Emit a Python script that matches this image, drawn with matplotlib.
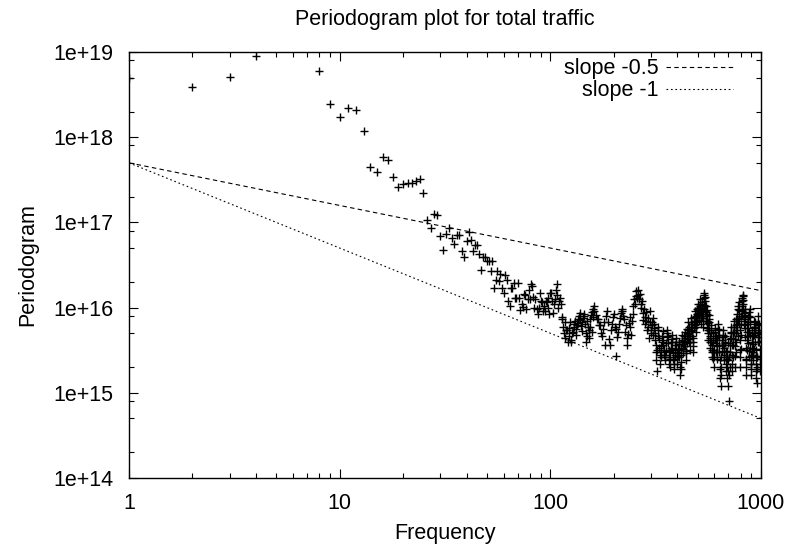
import numpy as np
import matplotlib
matplotlib.use("Agg")
import matplotlib.pyplot as plt
from matplotlib.ticker import FixedLocator, FixedFormatter, NullFormatter

plt.rcParams['font.family'] = ['Liberation Sans', 'DejaVu Sans']

UNIT = 1e15  # values below are in units of 1e15

# low frequencies (5, 6, 7 lie above the plotted range)
freq_low = [1, 2, 3, 4] + list(range(8, 101))
power_low = [5000, 3900, 5060, 9050,
             6000, 2470, 1720, 2200, 2080, 1180, 450, 390, 590, 540, 340, 260, 284, 290, 290, 310, 320, 220, 106, 87, 127, 123, 70,
             47, 74, 87, 66, 56, 71, 72, 46, 39, 60,
             78, 62, 46, 54, 54, 43, 28, 39, 39, 35,
             35, 27, 35, 17, 21, 27, 20.5, 25, 17, 14.7,
             24, 21, 12, 10.5, 17, 17.2, 19.7, 13, 13, 19.7,
             13, 9.4, 11, 10.2, 14.4, 14, 9.6, 12.6, 16, 12.6,
             19, 18, 13.2, 10, 12.6, 9.6, 8.4, 10, 15, 12,
             11.5, 9, 10.5, 9.1, 12, 11.7, 13, 10, 8.5, 15]

freq_b = list(range(101, 162))
power_b = [15, 12, 8.7, 11, 12.5, 16, 19, 14, 10, 12,
           13, 11, 7.3, 7.7, 6.0, 5.0, 6.8, 4.4, 5.5, 5.4,
           3.9, 4.6, 5.8, 6.7, 4.2, 3.9, 5.0, 5.2, 6.0, 6.5,
           7.0, 5.6, 4.8, 6.2, 7.4, 6.6, 8.0, 8.7, 7.2, 6.1,
           5.3, 6.8, 7.6, 8.3, 8.0, 6.4, 5.0, 3.9, 4.6, 7.0,
           6.0, 5.4, 4.4, 5.9, 7.3, 8.1, 8.8, 5.2, 7.8, 9.5,
           10.5]

freq_c = list(range(162, 302, 2))
power_c = [9.0, 8.2, 7.3, 7.3, 6.2, 6.2, 5.0, 4.7, 5.6, 6.8,
           3.6, 7.9, 9.1, 6.7, 4.3, 3.6, 5.4, 6.5, 7.7, 8.3,
           6.0, 5.6, 2.7, 4.5, 5.2, 6.4, 7.5, 8.6, 9.6, 9.2,
           8.0, 7.3, 5.2, 6.2, 4.4, 3.6, 4.9, 6.6, 7.8, 5.9,
           4.8, 6.9, 8.5, 10.5, 12.6, 11.0, 13.5, 15.5, 13.0, 16.0,
           14.0, 12.5, 14.5, 11.0, 9.8, 12.0, 8.6, 7.2, 9.5, 7.8,
           6.4, 8.8, 7.0, 5.4, 6.0, 7.5, 4.4, 9.0, 6.8, 5.5]

freq_d = list(range(302, 602, 3))
power_d = [5.0, 6.7, 7.5, 5.8, 4.2, 3.0, 1.8, 4.6, 6.0, 3.4,
           2.2, 3.0, 4.0, 5.3, 3.6, 2.8, 2.4, 3.1, 4.5, 5.5,
           3.8, 2.6, 2.0, 3.0, 3.9, 4.8, 3.3, 2.5, 1.9, 2.8,
           3.6, 4.4, 3.0, 2.2, 3.3, 4.0, 2.6, 1.6, 2.3, 3.4,
           4.8, 3.7, 2.9, 4.1, 5.2, 3.5, 2.4, 3.8, 5.6, 4.3,
           6.8, 5.0, 3.2, 4.6, 6.0, 7.5, 5.4, 4.0, 3.0, 5.8,
           7.8, 6.3, 9.0, 7.0, 5.2, 8.4, 11.0, 9.3, 7.1, 10.0,
           12.5, 8.8, 6.5, 9.5, 11.5, 8.0, 6.0, 9.0, 12.8, 15.0,
           11.8, 9.2, 7.0, 10.5, 8.4, 5.8, 4.2, 6.6, 8.2, 5.5,
           3.4, 4.6, 6.2, 4.0, 2.6, 3.6, 5.0, 3.0, 2.0, 3.2]

freq_g = list(range(304, 600, 3))
power_g = [6.2, 4.8, 6.5, 5.0, 3.6, 2.4, 3.2, 5.4, 4.4, 2.8,
           2.6, 3.5, 4.6, 4.2, 3.2, 2.6, 2.8, 3.8, 5.0, 4.6,
           3.2, 2.2, 2.5, 3.4, 4.3, 4.0, 2.9, 2.2, 2.4, 3.2,
           4.0, 3.6, 2.6, 2.7, 3.7, 3.2, 2.0, 1.9, 2.8, 4.0,
           4.2, 3.3, 3.5, 4.6, 4.4, 2.9, 3.1, 4.7, 4.9, 5.5,
           5.9, 4.0, 3.9, 5.3, 6.7, 6.4, 4.6, 3.5, 4.4, 6.8,
           7.0, 7.6, 8.0, 6.0, 6.8, 9.6, 10.0, 8.2, 8.5, 11.0,
           10.5, 7.6, 8.0, 10.5, 9.6, 7.0, 7.5, 10.8, 14.0, 13.2,
           10.4, 8.0, 8.8, 9.4, 7.0, 5.0, 5.4, 7.4, 6.8, 4.4,
           4.0, 5.4, 5.0, 3.2, 3.0, 4.2, 4.0, 2.5, 2.6]

freq_e = list(range(603, 1000, 4))
power_e = [4.4, 5.8, 3.8, 2.5, 3.5, 4.8, 6.5, 4.5, 3.0, 1.9,
           1.2, 2.0, 3.1, 4.2, 5.5, 3.6, 2.4, 3.4, 4.6, 3.1,
           2.2, 1.5, 2.5, 3.8, 1.2, 2.6, 0.8, 3.0, 4.3, 6.0,
           4.4, 2.8, 1.8, 3.6, 5.0, 7.0, 5.2, 3.5, 2.0, 4.0,
           6.2, 8.5, 6.4, 4.6, 9.5, 11.5, 7.5, 5.4, 3.2, 2.0,
           4.8, 8.0, 10.5, 13.0, 14.0, 11.0, 8.6, 6.2, 9.5, 7.0,
           4.5, 2.5, 1.6, 3.2, 5.2, 7.8, 5.8, 3.8, 2.6, 8.0,
           9.5, 6.4, 3.4, 2.2, 1.6, 2.8, 4.0, 5.5, 3.7, 2.4,
           3.3, 7.0, 4.8, 6.8, 5.0, 3.2, 2.2, 1.5, 2.6, 1.3,
           3.9, 5.2, 8.0, 4.5, 6.4, 4.0, 2.7, 1.8, 3.3, 4.9]

freq_f = list(range(605, 1000, 4))
power_f = [5.2, 4.6, 3.0, 3.0, 4.2, 5.6, 5.4, 3.6, 2.4, 1.5,
           1.6, 2.6, 3.6, 4.8, 4.5, 3.0, 2.8, 4.0, 3.8, 2.6,
           1.8, 2.0, 3.1, 2.4, 1.8, 1.6, 2.0, 3.6, 5.0, 5.2,
           3.6, 2.2, 2.6, 4.3, 6.0, 6.0, 4.3, 2.7, 3.0, 5.0,
           7.3, 7.4, 5.4, 7.0, 10.5, 9.4, 6.4, 4.2, 2.6, 3.3,
           6.4, 9.2, 11.8, 13.5, 12.4, 9.7, 7.3, 7.8, 8.2, 5.7,
           3.4, 2.0, 2.4, 4.2, 6.4, 6.8, 4.7, 3.1, 5.2, 8.8,
           7.8, 4.8, 2.7, 1.9, 2.2, 3.4, 4.7, 4.6, 3.0, 2.8,
           5.0, 5.9, 5.8, 5.9, 4.0, 2.7, 1.8, 2.0, 1.9, 2.6,
           4.5, 6.6, 6.2, 5.4, 5.2, 3.3, 2.2, 2.5, 4.1]

# reference slopes: line through (1, 5e17)
slope_anchor = 5e17
slopes = [-0.5, -1.0]
slope_labels = ['slope -0.5', 'slope -1']

x_ticks = [1, 10, 100, 1000]
x_tick_labels = ['1', '10', '100', '1000']
y_ticks = [1e14, 1e15, 1e16, 1e17, 1e18, 1e19]
y_tick_labels = ['1e+14', '1e+15', '1e+16', '1e+17', '1e+18', '1e+19']

freq = np.array(freq_low + freq_b + freq_c + freq_d + freq_g + freq_e + freq_f, dtype=float)
power = np.array(power_low + power_b + power_c + power_d + power_g + power_e + power_f) * UNIT

FS = 15.5
fig = plt.figure(figsize=(7.94, 5.47), dpi=100)
ax = fig.add_axes([129/794, 1 - 478/547, (761 - 129)/794, (478 - 52)/547])
ax.set_xscale('log')
ax.set_yscale('log')
ax.set_xlim(1, 1000)
ax.set_ylim(1e14, 1e19)

ax.plot(freq, power, linestyle='none', marker='+', markersize=5.5,
        markeredgewidth=1.0, color='black', clip_on=True)

xs = np.array([1.0, 1000.0])
styles = [(0, (4, 3)), (0, (1.5, 2.5))]
handles = []
for s, ls, lab in zip(slopes, styles, slope_labels):
    h, = ax.plot(xs, slope_anchor * xs ** s, color='black', lw=0.8,
                 linestyle=ls, label=lab)
    handles.append(h)

ax.legend(handles=handles, loc='upper right', bbox_to_anchor=(0.9557, 0.985),
          frameon=False, markerfirst=False, fontsize=FS, handlelength=3.1,
          handletextpad=0.35, labelspacing=0.05, borderpad=0, borderaxespad=0)

ax.xaxis.set_major_locator(FixedLocator(x_ticks))
ax.xaxis.set_major_formatter(FixedFormatter(x_tick_labels))
ax.xaxis.set_minor_locator(FixedLocator([m * 10 ** d for d in range(3) for m in range(2, 10)]))
ax.xaxis.set_minor_formatter(NullFormatter())
ax.yaxis.set_major_locator(FixedLocator(y_ticks))
ax.yaxis.set_major_formatter(FixedFormatter(y_tick_labels))
ax.yaxis.set_minor_locator(FixedLocator([m * 10.0 ** d for d in range(14, 19) for m in (2, 5, 8)]))
ax.yaxis.set_minor_formatter(NullFormatter())

ax.tick_params(which='both', direction='in', top=True, right=True, width=0.8, labelsize=FS)
ax.tick_params(which='major', length=6.5)
ax.tick_params(which='minor', length=3.3)
ax.tick_params(axis='x', which='major', pad=11)
ax.tick_params(axis='y', which='major', pad=11)
for sp in ax.spines.values():
    sp.set_linewidth(1.0)

fig.text(445/794, 1 - 20/547, 'Periodogram plot for total traffic', ha='center', va='center', fontsize=FS)
fig.text(445/794, 1 - 533/547, 'Frequency', ha='center', va='center', fontsize=FS)
fig.text(28/794, 1 - 265/547, 'Periodogram', ha='center', va='center', rotation=90, fontsize=FS)

fig.savefig('out.png', dpi=100)
